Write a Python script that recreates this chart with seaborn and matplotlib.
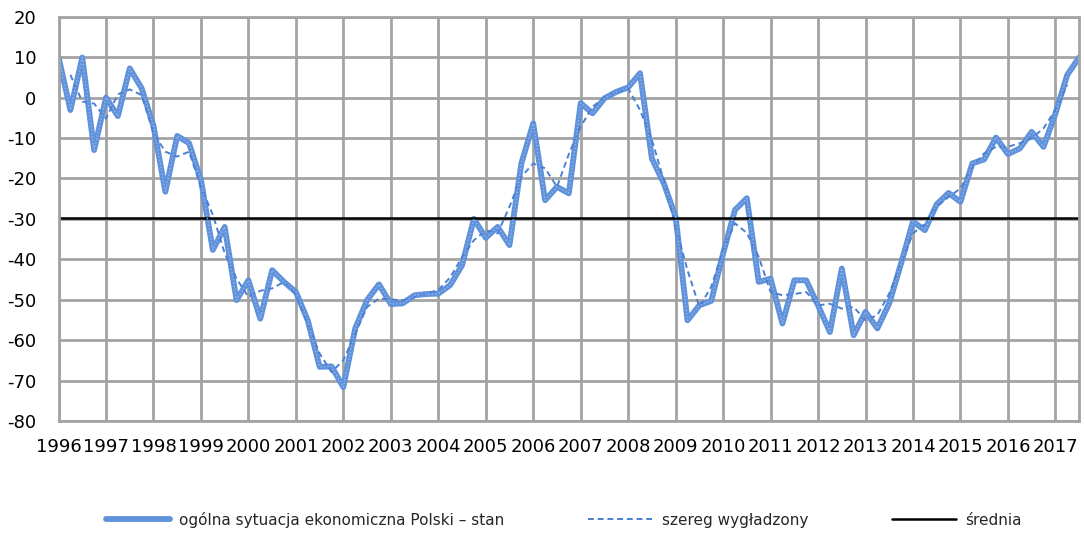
"""
Koniunktura konsumencka: ogólna sytuacja ekonomiczna Polski (dane kwartalne 1996-2017).
Wykres liniowy: seria surowa, seria wygładzona i średnia.
"""

import matplotlib
matplotlib.use("Agg")
import matplotlib.pyplot as plt
import numpy as np
import pandas as pd
import seaborn as sns

years = list(range(1996, 2018))

# saldo kwartalne, 1996Q1 .. 2017Q3
stan = [
    10, -3.1, 9.9, -13, 0, -4.6, 7.2, 2.3, -7, -23.3,
    -9.5, -11.3, -20.4, -37.7, -32, -50.1, -45.2, -54.7, -42.7, -45.6,
    -48.1, -55.1, -66.6, -66.5, -71.6, -57.1, -50.1, -46.2, -51.1, -50.9,
    -48.9, -48.6, -48.5, -46.4, -41.5, -30, -34.7, -32, -36.5, -16.3,
    -6.4, -25.4, -22.1, -23.7, -1.4, -3.9, -0.2, 1.4, 2.5, 6.0,
    -15.1, -21.2, -29.5, -55.1, -51.4, -50.3, -38.6, -27.8, -24.9, -45.6,
    -44.8, -55.9, -45.2, -45.2, -51.4, -58, -42.3, -58.8, -53, -57.1,
    -50.9, -41, -30.7, -32.8, -26.4, -23.6, -25.8, -16.3, -15.3, -9.9,
    -14, -12.6, -8.5, -12.2, -4, 5.6, 9.9,
]

wygladzony = [
    np.nan, 5.6, -1, -1.5, -5.2, 0.8, 2, 0.6, -8.8, -13.4,
    -14.6, -13.4, -22.1, -29, -38.5, -44.8, -49.3, -47.8, -47.2, -45.6,
    -48.6, -56, -63.3, -67.9, -65, -58.4, -51.8, -49.7, -49.9, -50.2,
    -49.2, -48.5, -47.6, -44.5, -39.5, -35.3, -32.8, -33.6, -27, -19.6,
    -16.3, -17.5, -22.1, -14, -7.2, -2.3, 0, 1.4, 2.3, -3.1,
    -10.5, -20.4, -32, -42.7, -51.8, -46.8, -37.7, -31.1, -33.5, -39.4,
    -48.1, -48.9, -48.6, -48.1, -51.4, -51, -52.2, -51.8, -55.1, -53.8,
    -48.5, -41, -33.6, -31.3, -27, -24.6, -22.5, -17.1, -13.8, -12.2,
    -12.2, -11.3, -10.1, -7.6, -3.1, 3.1, np.nan,
]

srednia = -29.7

LABELS = ["ogólna sytuacja ekonomiczna Polski – stan", "szereg wygładzony", "średnia"]
GRID = "#a3a3a3"

sns.set_theme(style="white")
plt.rcParams["font.family"] = ["DejaVu Sans"]
plt.rcParams["axes.unicode_minus"] = False


def main() -> None:
    df = pd.DataFrame({"q": np.arange(len(stan)), "stan": stan, "wyg": wygladzony})

    fig = plt.figure(figsize=(10.84, 5.37), dpi=100)
    ax = fig.add_axes([0.054, 0.216, 0.9415, 0.753])

    sns.lineplot(data=df, x="q", y="stan", ax=ax, color="#5f92db", lw=4.2,
                 label=LABELS[0], legend=False, solid_joinstyle="round")
    # jasny prążek w środku grubej linii (jak w oryginale z Excela)
    ax.plot(df["q"], df["stan"], color="#93b5ea", lw=1.0, ls=(0, (1, 1.5)),
            zorder=3, solid_joinstyle="round")
    sns.lineplot(data=df.dropna(), x="q", y="wyg", ax=ax, color="#4a7fd3", lw=1.4,
                 ls=(0, (3, 2)), label=LABELS[1], legend=False)
    ax.axhline(srednia, color="black", lw=1.8, label=LABELS[2], zorder=2)

    ax.set_xlim(0, len(stan) - 1)
    ax.set_ylim(-80, 20)
    ax.set_xticks(np.arange(0, 4 * len(years), 4))
    ax.set_xticklabels([str(y) for y in years])
    ax.set_yticks(np.arange(-80, 21, 10))
    ax.set_xlabel("")
    ax.set_ylabel("")
    ax.grid(True, color=GRID, lw=2)
    ax.set_axisbelow(True)
    for s in ax.spines.values():
        s.set_color(GRID)
        s.set_linewidth(2)
    ax.tick_params(axis="both", length=0, labelsize=13, colors="black")
    ax.tick_params(axis="x", pad=12)
    ax.tick_params(axis="y", pad=16)

    handles, labels = ax.get_legend_handles_labels()
    fig.legend(handles, labels, loc="center", bbox_to_anchor=(0.52, 0.032), ncol=3,
               frameon=False, fontsize=11, handlelength=4.2, columnspacing=5.5,
               handletextpad=0.6)

    fig.savefig("out.png", dpi=100)
    plt.close(fig)


if __name__ == "__main__":
    main()
